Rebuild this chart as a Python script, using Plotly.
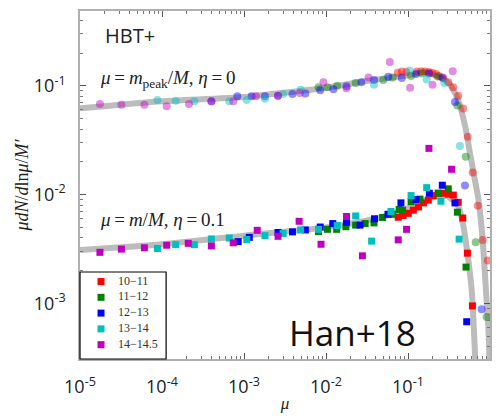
import plotly.graph_objects as go

# ---- data ----
bins = ["10−11", "11−12", "12−13", "13−14", "14−14.5"]
colors = ["#ff0000", "#008000", "#0000ff", "#00bfbf", "#bf00bf"]

x_tickvals = [1e-5, 1e-4, 1e-3, 1e-2, 1e-1, 1]
x_ticktext = ["10<sup>-5</sup>", "10<sup>-4</sup>", "10<sup>-3</sup>", "10<sup>-2</sup>", "10<sup>-1</sup>", "10<sup>0</sup>"]
y_tickvals = [1e-3, 1e-2, 1e-1]
y_ticktext = ["10<sup>-3</sup>", "10<sup>-2</sup>", "10<sup>-1</sup>"]

# upper sample: mu = m_peak/M, eta = 0 (circles)
up_red_x = [0.075, 0.084, 0.095, 0.128, 0.145, 0.161, 0.18, 0.198, 0.22, 0.239, 0.27, 0.31, 0.357, 0.41, 0.47, 0.535, 0.615, 0.71, 0.815, 0.94]
up_red_y = [0.132, 0.135, 0.134, 0.135, 0.136, 0.135, 0.134, 0.132, 0.128, 0.123, 0.117, 0.108, 0.097, 0.081, 0.062, 0.034, 0.016, 0.0079, 0.00384, 0.00248]
up_green_x = [8.1e-3, 1.04e-2, 1.37e-2, 2.3e-2, 5.0e-2, 6.5e-2, 0.109, 0.147, 0.23, 0.40, 0.506, 0.67, 0.91]
up_green_y = [0.097, 0.097, 0.100, 0.106, 0.113, 0.119, 0.123, 0.130, 0.122, 0.066, 0.0223, 0.00366, 0.00075]
up_blue_x = [4.0e-4, 8.3e-4, 1.24e-3, 1.8e-3, 2.6e-3, 3.9e-3, 5.6e-3, 8.5e-3, 1.23e-2, 1.78e-2, 2.7e-2, 3.85e-2, 5.75e-2, 8.4e-2, 0.125, 0.18, 0.262, 0.374, 0.495, 0.79]
up_blue_y = [0.072, 0.080, 0.080, 0.080, 0.081, 0.084, 0.085, 0.091, 0.093, 0.099, 0.108, 0.113, 0.121, 0.118, 0.128, 0.130, 0.119, 0.071, 0.0121, 0.000885]
up_cyan_x = [8.8e-5, 1.47e-4, 2.48e-4, 6.6e-4, 1.08e-3, 1.8e-3, 3.0e-3, 4.9e-3, 3.85e-2, 0.104, 0.169, 0.277, 0.43]
up_cyan_y = [0.074, 0.073, 0.072, 0.072, 0.074, 0.076, 0.084, 0.092, 0.102, 0.138, 0.114, 0.106, 0.028]
up_mag_x = [1.75e-5, 3.2e-5, 6.1e-5, 1.14e-4, 2.13e-4, 4.0e-4, 7.4e-4, 1.4e-3, 2.6e-3, 4.8e-3, 9.3e-3, 1.78e-2, 3.3e-2, 6.0e-2, 0.106, 0.199, 0.351]
up_mag_y = [0.068, 0.067, 0.067, 0.065, 0.068, 0.072, 0.072, 0.080, 0.081, 0.086, 0.108, 0.095, 0.119, 0.165, 0.096, 0.102, 0.136]

# lower sample: mu = m/M, eta = 0.1 (squares)
lo_red_x = [0.076, 0.087, 0.101, 0.116, 0.134, 0.154, 0.177, 0.204, 0.234, 0.27, 0.31, 0.357, 0.41, 0.465, 0.53, 0.61]
lo_red_y = [0.0062, 0.00643, 0.00673, 0.0072, 0.0077, 0.0084, 0.0089, 0.0098, 0.0103, 0.0103, 0.0101, 0.0099, 0.0085, 0.0061, 0.0029, 0.00095]
lo_green_x = [8.1e-3, 1.04e-2, 1.35e-2, 1.75e-2, 2.3e-2, 3.0e-2, 3.85e-2, 4.9e-2, 6.5e-2, 7.8e-2, 8.6e-2, 0.109, 0.14, 0.234, 0.31, 0.40, 0.51]
lo_green_y = [0.00458, 0.0048, 0.0048, 0.00507, 0.00525, 0.00542, 0.0055, 0.00617, 0.0066, 0.0073, 0.0072, 0.0086, 0.0091, 0.0103, 0.0113, 0.0069, 0.00216]
lo_blue_x = [8.5e-4, 1.16e-3, 2.6e-3, 3.9e-3, 5.6e-3, 8.5e-3, 1.21e-2, 1.78e-2, 2.6e-2, 3.9e-2, 5.7e-2, 8.2e-2, 0.125, 0.182, 0.262, 0.374, 0.52]
lo_blue_y = [0.0037, 0.00405, 0.00449, 0.00455, 0.00474, 0.00504, 0.00542, 0.00557, 0.00525, 0.0060, 0.0066, 0.0084, 0.009, 0.0103, 0.0122, 0.0084, 0.00068]
lo_cyan_x = [8.8e-5, 1.47e-4, 2.48e-4, 4.0e-4, 6.6e-4, 1.08e-3, 1.8e-3, 3.0e-3, 4.9e-3, 8.1e-3, 1.37e-2, 2.3e-2, 3.6e-2, 6.2e-2, 0.109, 0.169, 0.252, 0.42]
lo_cyan_y = [0.0032, 0.00347, 0.00347, 0.00392, 0.0040, 0.00387, 0.0042, 0.0044, 0.00474, 0.0048, 0.0052, 0.00637, 0.00374, 0.0070, 0.0098, 0.0116, 0.0087, 0.0039]
lo_mag_x = [1.75e-5, 3.2e-5, 6.1e-5, 1.14e-4, 2.09e-4, 4.0e-4, 7.4e-4, 1.45e-3, 2.6e-3, 4.7e-3, 8.7e-3, 1.78e-2, 2.78e-2, 7.6e-2, 0.096, 0.18, 0.34]
lo_mag_y = [0.00295, 0.00316, 0.00325, 0.00343, 0.00357, 0.00338, 0.00361, 0.0047, 0.00414, 0.00569, 0.0035, 0.0063, 0.00274, 0.00384, 0.0048, 0.0266, 0.0171]

# fitted model curves (grey)
fit_up_x = [1e-5, 1e-4, 1e-3, 1e-2, 3e-2, 0.1, 0.16, 0.245, 0.32, 0.40, 0.50, 0.57, 0.65, 0.72, 0.80, 0.85, 0.90, 0.95, 0.99]
fit_up_y = [0.062, 0.072, 0.079, 0.096, 0.110, 0.125, 0.133, 0.12, 0.104, 0.077, 0.042, 0.024, 0.014, 0.0092, 0.0045, 0.0024, 0.0012, 0.00065, 0.00028]
fit_lo_x = [1e-5, 1e-4, 1e-3, 1e-2, 4e-2, 0.1, 0.2, 0.3, 0.41, 0.47, 0.53, 0.60, 0.656, 0.68]
fit_lo_y = [0.0031, 0.0035, 0.0042, 0.005, 0.006, 0.0075, 0.0095, 0.0097, 0.0078, 0.0053, 0.0029, 0.0013, 0.00035, 0.0002]

up_x = [up_red_x, up_green_x, up_blue_x, up_cyan_x, up_mag_x]
up_y = [up_red_y, up_green_y, up_blue_y, up_cyan_y, up_mag_y]
lo_x = [lo_red_x, lo_green_x, lo_blue_x, lo_cyan_x, lo_mag_x]
lo_y = [lo_red_y, lo_green_y, lo_blue_y, lo_cyan_y, lo_mag_y]

SERIF = "Liberation Serif"
SANS = "Open Sans"
TS = "\u2009"  # thin space (math spacing around '=')

fig = go.Figure()
for fx, fy in [(fit_up_x, fit_up_y), (fit_lo_x, fit_lo_y)]:
    fig.add_trace(go.Scatter(x=fx, y=fy, mode="lines", showlegend=False,
                             line=dict(color="rgb(188,188,188)", width=6, shape="spline", smoothing=0.6),
                             hoverinfo="skip"))

for i in range(5):
    fig.add_trace(go.Scatter(x=up_x[i], y=up_y[i], mode="markers", showlegend=False,
                             marker=dict(symbol="circle", size=8, color=colors[i], opacity=0.45,
                                         line=dict(width=0))))
for i in range(5):
    fig.add_trace(go.Scatter(x=lo_x[i], y=lo_y[i], mode="markers", name=bins[i], showlegend=False,
                             marker=dict(symbol="square", size=7, color=colors[i],
                                         line=dict(width=0))))

# ---- legend box (drawn on a small overlay axis in pixel-like units) ----
leg_rows = [10 + 16.5 * i for i in range(len(bins))]
fig.add_trace(go.Scatter(x=[21] * len(bins), y=leg_rows, mode="markers", xaxis="x2", yaxis="y2",
                         showlegend=False, hoverinfo="skip",
                         marker=dict(symbol="square", size=7, color=colors, line=dict(width=0))))
fig.add_trace(go.Scatter(x=[38] * len(bins), y=leg_rows, mode="text", xaxis="x2", yaxis="y2",
                         text=bins, textposition="middle right", showlegend=False, hoverinfo="skip",
                         textfont=dict(family=SERIF, size=12, color="#333")))

axis_common = dict(
    type="log", showgrid=False, zeroline=False,
    showline=True, linecolor="#b0b0b0", linewidth=1.5, mirror="ticks",
    ticks="inside", ticklen=6, tickcolor="#555555", tickwidth=1,
    tickfont=dict(family=SANS, size=18, color="#222222"),
    minor=dict(ticks="inside", ticklen=3, tickcolor="#777777", dtick="D1", showgrid=False),
)

LEG_W, LEG_H = 0.21, 0.25
fig.update_layout(
    width=503, height=419,
    margin=dict(l=80, r=13, t=9, b=47),
    plot_bgcolor="white", paper_bgcolor="white",
    showlegend=False,
    xaxis=dict(axis_common, range=[-5, 0], tickvals=x_tickvals, ticktext=x_ticktext,
               ticklabelstandoff=11,
               title=dict(text="<i>μ</i>", font=dict(family=SERIF, size=17, color="#222"), standoff=0)),
    yaxis=dict(axis_common, range=[-3.51, -0.313], tickvals=y_tickvals, ticktext=y_ticktext,
               ticklabelstandoff=9,
               title=dict(text="<i>μdN</i>/<i>d</i>ln<i>μ</i>/<i>M′</i>",
                          font=dict(family=SERIF, size=18, color="#222"), standoff=0)),
    xaxis2=dict(domain=[0, LEG_W], range=[0, 86], visible=False, anchor="y2", fixedrange=True),
    yaxis2=dict(domain=[0, LEG_H], range=[91, 0], visible=False, anchor="x2", fixedrange=True),
    shapes=[dict(type="rect", xref="paper", yref="paper", x0=0, x1=LEG_W, y0=0, y1=LEG_H,
                 line=dict(color="black", width=1.2), fillcolor="rgba(0,0,0,0)", layer="above")],
)

fig.add_annotation(xref="paper", yref="paper", x=0.055, y=0.93, xanchor="left", yanchor="middle",
                   text="HBT+", showarrow=False, font=dict(family=SANS, size=20, color="#222"))
fig.add_annotation(xref="paper", yref="paper", x=0.045, y=0.805, xanchor="left", yanchor="middle",
                   text=f"<i>μ</i>{TS}={TS}<i>m</i><sub>peak</sub>/<i>M</i>, <i>η</i>{TS}={TS}0", showarrow=False,
                   font=dict(family=SERIF, size=19, color="#222"))
fig.add_annotation(xref="paper", yref="paper", x=0.045, y=0.4, xanchor="left", yanchor="middle",
                   text=f"<i>μ</i>{TS}={TS}<i>m</i>/<i>M</i>, <i>η</i>{TS}={TS}0.1", showarrow=False,
                   font=dict(family=SERIF, size=19, color="#222"))
fig.add_annotation(xref="paper", yref="paper", x=0.505, y=0.075, xanchor="left", yanchor="middle",
                   text="Han+18", showarrow=False, font=dict(family=SANS, size=35, color="#111"))

fig.write_html("out.html")
